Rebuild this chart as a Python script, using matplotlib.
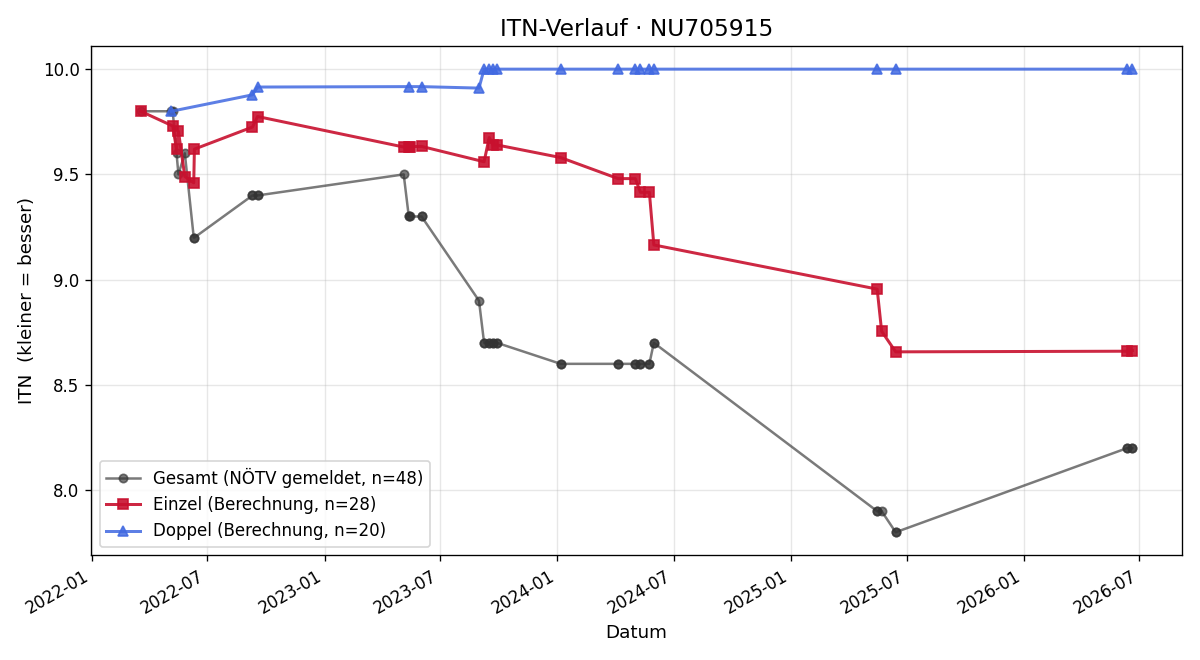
import pandas as pd
import matplotlib.pyplot as plt
import matplotlib.dates as mdates

# Gesamt (NÖTV gemeldet) - one entry per match
gesamt_dates = ["2022-03-19", "2022-05-06", "2022-05-08", "2022-05-14", "2022-05-17",
                "2022-05-27", "2022-06-10", "2022-06-11", "2022-09-10", "2022-09-10",
                "2022-09-18", "2022-09-18", "2023-05-05", "2023-05-13", "2023-05-13",
                "2023-05-15", "2023-06-02", "2023-06-02", "2023-08-31", "2023-09-08",
                "2023-09-08", "2023-09-16", "2023-09-16", "2023-09-22", "2023-09-22",
                "2023-09-28", "2023-09-28", "2024-01-06", "2024-01-06", "2024-04-05",
                "2024-04-05", "2024-05-02", "2024-05-02", "2024-05-10", "2024-05-10",
                "2024-05-24", "2024-05-24", "2024-05-31", "2024-05-31", "2025-05-16",
                "2025-05-16", "2025-05-23", "2025-06-14", "2025-06-14", "2026-06-12",
                "2026-06-12", "2026-06-20", "2026-06-20"]
gesamt_itn = [9.8, 9.8, 9.8, 9.6, 9.5, 9.6, 9.2, 9.2, 9.4, 9.4,
              9.4, 9.4, 9.5, 9.3, 9.3, 9.3, 9.3, 9.3, 8.9, 8.7,
              8.7, 8.7, 8.7, 8.7, 8.7, 8.7, 8.7, 8.6, 8.6, 8.6,
              8.6, 8.6, 8.6, 8.6, 8.6, 8.6, 8.6, 8.7, 8.7, 7.9,
              7.9, 7.9, 7.8, 7.8, 8.2, 8.2, 8.2, 8.2]

einzel_dates = ["2022-03-19", "2022-05-08", "2022-05-14", "2022-05-17", "2022-05-27",
                "2022-06-10", "2022-06-11", "2022-09-10", "2022-09-18", "2023-05-05",
                "2023-05-13", "2023-05-15", "2023-06-02", "2023-09-08", "2023-09-16",
                "2023-09-22", "2023-09-28", "2024-01-06", "2024-04-05", "2024-05-02",
                "2024-05-10", "2024-05-24", "2024-05-31", "2025-05-16", "2025-05-23",
                "2025-06-14", "2026-06-12", "2026-06-20"]
einzel_itn = [9.80, 9.73, 9.62, 9.705, 9.49, 9.46, 9.62, 9.725, 9.775, 9.63,
              9.63, 9.632, 9.633, 9.56, 9.675, 9.64, 9.64, 9.58, 9.48, 9.48,
              9.415, 9.415, 9.165, 8.955, 8.755, 8.657, 8.66, 8.663]

doppel_dates = ["2022-05-06", "2022-09-10", "2022-09-18", "2023-05-13", "2023-06-02",
                "2023-08-31", "2023-09-08", "2023-09-16", "2023-09-22", "2023-09-28",
                "2024-01-06", "2024-04-05", "2024-05-02", "2024-05-10", "2024-05-24",
                "2024-05-31", "2025-05-16", "2025-06-14", "2026-06-12", "2026-06-20"]
doppel_itn = [9.80, 9.878, 9.915, 9.917, 9.917, 9.91, 10.0, 10.0, 10.0, 10.0,
              10.0, 10.0, 10.0, 10.0, 10.0, 10.0, 10.0, 10.0, 10.0, 10.0]

fig, ax = plt.subplots(figsize=(10, 5.5), dpi=120)

ax.plot(pd.to_datetime(gesamt_dates), gesamt_itn, marker="o", markersize=5,
        color="#333333", alpha=0.65, linewidth=1.5,
        label=f"Gesamt (NÖTV gemeldet, n={len(gesamt_itn)})")
ax.plot(pd.to_datetime(einzel_dates), einzel_itn, marker="s", markersize=6,
        color="#c8102e", alpha=0.9, linewidth=1.8,
        label=f"Einzel (Berechnung, n={len(einzel_itn)})")
ax.plot(pd.to_datetime(doppel_dates), doppel_itn, marker="^", markersize=6,
        color="#4169e1", alpha=0.85, linewidth=1.8,
        label=f"Doppel (Berechnung, n={len(doppel_itn)})")

ax.set_title("ITN-Verlauf · NU705915", fontsize=14)
ax.set_xlabel("Datum", fontsize=11)
ax.set_ylabel("ITN  (kleiner = besser)", fontsize=11)
ax.grid(True, alpha=0.3)
ax.xaxis.set_major_formatter(mdates.DateFormatter("%Y-%m"))
ax.legend(loc="lower left")
fig.autofmt_xdate()
fig.tight_layout()
fig.savefig("out.png")
